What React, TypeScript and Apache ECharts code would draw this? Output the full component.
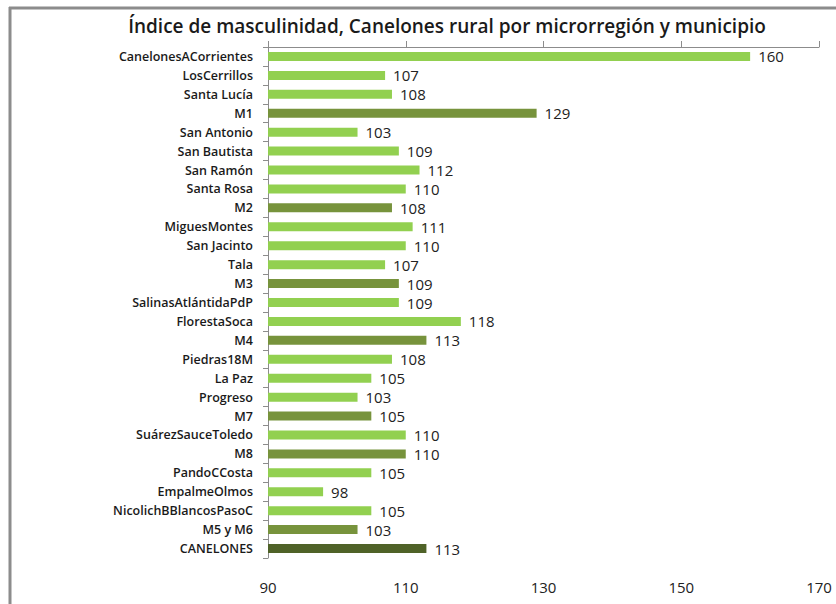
import React, { useEffect, useRef } from "react";
import * as echarts from "echarts";

const title = "Índice de masculinidad, Canelones rural por microrregión y municipio";

const categories = [
  "CanelonesACorrientes",
  "LosCerrillos",
  "Santa Lucía",
  "M1",
  "San Antonio",
  "San Bautista",
  "San Ramón",
  "Santa Rosa",
  "M2",
  "MiguesMontes",
  "San Jacinto",
  "Tala",
  "M3",
  "SalinasAtlántidaPdP",
  "FlorestaSoca",
  "M4",
  "Piedras18M",
  "La Paz",
  "Progreso",
  "M7",
  "SuárezSauceToledo",
  "M8",
  "PandoCCosta",
  "EmpalmeOlmos",
  "NicolichBBlancosPasoC",
  "M5 y M6",
  "CANELONES",
];

const values = [160, 107, 108, 129, 103, 109, 112, 110, 108, 111, 110, 107, 109, 109, 118, 113, 108, 105, 103, 105, 110, 110, 105, 98, 105, 103, 113];

const axisTicks = [90, 110, 130, 150, 170];

const FONT = "'Open Sans', 'Liberation Sans', sans-serif";

function barColor(name: string): string {
  if (name === "CANELONES") return "#4F6228";
  if (/^M\d/.test(name)) return "#77933C";
  return "#92D050";
}

export default function App() {
  const ref = useRef<HTMLDivElement>(null);
  useEffect(() => {
    if (!ref.current) return;
    const chart = echarts.init(ref.current, undefined, { renderer: "svg" });
    const min = axisTicks[0];
    const max = axisTicks[axisTicks.length - 1];
    const interval = axisTicks[1] - axisTicks[0];
    chart.setOption({
      animation: false,
      backgroundColor: "#ffffff",
      title: {
        text: title,
        left: 442,
        textAlign: "center",
        top: 11,
        textStyle: {
          fontFamily: FONT,
          fontSize: 19,
          fontWeight: 600,
          color: "#1a1a1a",
        },
      },
      grid: { left: 268, right: 17, top: 47, bottom: 46, containLabel: false },
      xAxis: [
        {
          type: "value",
          position: "top",
          min,
          max,
          interval,
          axisLine: { show: true, lineStyle: { color: "#8c8c8c", width: 1 } },
          axisTick: { show: true, length: 6, lineStyle: { color: "#8c8c8c" } },
          axisLabel: { show: false },
          splitLine: { show: false },
        },
        {
          type: "value",
          position: "bottom",
          min,
          max,
          interval,
          axisLine: { show: false },
          axisTick: { show: false },
          axisLabel: {
            show: true,
            margin: 21,
            fontFamily: FONT,
            fontSize: 15,
            color: "#222",
          },
          splitLine: { show: false },
        },
      ],
      yAxis: {
        type: "category",
        data: categories,
        inverse: true,
        axisLine: { show: true, lineStyle: { color: "#8c8c8c", width: 1 } },
        axisTick: { show: true, length: 5, lineStyle: { color: "#8c8c8c" } },
        axisLabel: {
          margin: 15,
          fontFamily: FONT,
          fontSize: 12.5,
          fontWeight: 600,
          color: "#1a1a1a",
        },
      },
      series: [
        {
          type: "bar",
          xAxisIndex: 0,
          barWidth: 9,
          data: categories.map((c, i) => ({
            value: values[i],
            itemStyle: { color: barColor(c) },
          })),
          label: {
            show: true,
            position: "right",
            distance: 8,
            fontFamily: FONT,
            fontSize: 15,
            color: "#222",
          },
        },
      ],
      graphic: [
        {
          type: "line",
          shape: { x1: 9, y1: 8, x2: 836, y2: 8 },
          style: { stroke: "#8c8c8c", lineWidth: 3 },
        },
        {
          type: "line",
          shape: { x1: 10, y1: 7, x2: 10, y2: 604 },
          style: { stroke: "#8c8c8c", lineWidth: 3 },
        },
      ],
    });
    return () => chart.dispose();
  }, []);
  return (
    <div
      ref={ref}
      style={{ position: "fixed", left: 0, top: 0, width: 836, height: 604 }}
    />
  );
}
